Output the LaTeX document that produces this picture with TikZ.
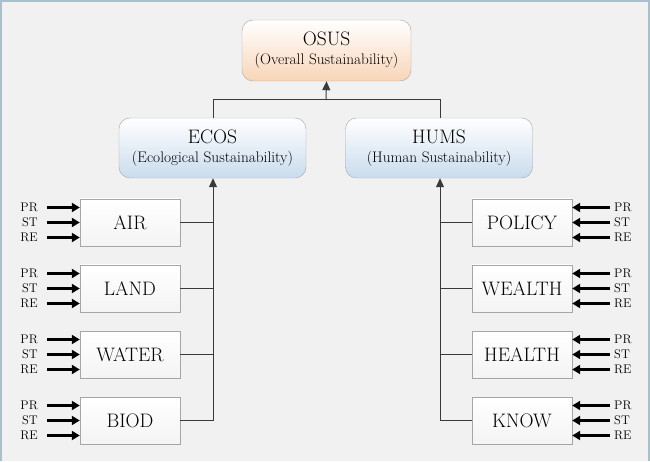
\documentclass[tikz,border=0pt]{standalone}
\usetikzlibrary{arrows.meta}
\definecolor{bgc}{HTML}{F1F1F1}
\definecolor{framec}{HTML}{A9BFCC}
\definecolor{peach}{HTML}{F8D5B8}
\definecolor{lblue}{HTML}{C9DCEE}
\definecolor{boxline}{HTML}{A6A6A6}
\definecolor{linec}{HTML}{3A3A3A}
\begin{document}
\begin{tikzpicture}[x=1pt,y=-1pt,
  topbox/.style={draw=boxline,rounded corners=11pt,minimum width=169pt,minimum height=61pt,align=center,font=\fontsize{19.5}{22}\selectfont,top color=white,bottom color=peach,inner sep=0pt},
  midbox/.style={draw=boxline,rounded corners=11pt,minimum width=187pt,minimum height=60pt,align=center,font=\fontsize{19.5}{22}\selectfont,top color=white,bottom color=lblue,inner sep=0pt},
  leaf/.style={draw=boxline,minimum width=100pt,minimum height=47pt,font=\fontsize{19.5}{22}\selectfont,top color=white,bottom color=bgc!80!white,inner sep=0pt},
  lab/.style={font=\fontsize{12.5}{13}\selectfont,inner sep=0pt},
  sub/.style={},
  conn/.style={draw=linec,line width=1pt},
  inarr/.style={line width=2.2pt,-{Triangle[length=8pt,width=9pt]}},
  uparr/.style={conn,-{Triangle[length=9pt,width=8pt]}}]
\fill[bgc] (0,0) rectangle (650,461);
\draw[framec,line width=1.5pt] (1,461) -- (1,1) -- (649,1) -- (649,461);
\useasboundingbox (0,0) rectangle (650,461);

\node[topbox] (osus) at (326.5,50.5) {OSUS\\[-3pt]{\fontsize{15.3}{17}\selectfont(Overall Sustainability)}};
\node[midbox] (ecos) at (212.5,148) {ECOS\\[-3pt]{\fontsize{15.3}{17}\selectfont(Ecological Sustainability)}};
\node[midbox] (hums) at (439,148) {HUMS\\[-3pt]{\fontsize{15.3}{17}\selectfont(Human Sustainability)}};

\coordinate (jl) at (213,100);
\coordinate (jr) at (440,100);
\coordinate (jm) at (326,100);
\draw[conn] (ecos.north -| jl) -- (jl) -- (jr) -- (hums.north -| jr);
\draw[uparr] (jm) -- (osus.south);

% left leaves
\foreach \n/\t/\y in {air/AIR/222.5,land/LAND/288.5,water/WATER/354.5,biod/BIOD/420.5}{
  \node[leaf] (\n) at (130,\y) {\t};
  \coordinate (\n c) at (213,\y);
  \draw[conn] (\n.east) -- (\n c);
  \coordinate (\n a1) at (47,\y-15);
  \coordinate (\n a2) at (47,\y);
  \coordinate (\n a3) at (47,\y+15);
  \node[lab,anchor=east] (\n l1) at (38,\y-15) {PR};
  \node[lab,anchor=east] (\n l2) at (38,\y) {ST};
  \node[lab,anchor=east] (\n l3) at (38,\y+15) {RE};
  \draw[inarr] (\n a1) -- (\n a1 -| \n.west);
  \draw[inarr] (\n a2) -- (\n a2 -| \n.west);
  \draw[inarr] (\n a3) -- (\n a3 -| \n.west);
}
\draw[uparr] (biodc) -- (ecos.south -| biodc);

% right leaves
\foreach \n/\t/\y in {policy/POLICY/222.5,wealth/WEALTH/288.5,health/HEALTH/354.5,know/KNOW/420.5}{
  \node[leaf] (\n) at (522,\y) {\t};
  \coordinate (\n c) at (440,\y);
  \draw[conn] (\n.west) -- (\n c);
  \coordinate (\n a1) at (610,\y-15);
  \coordinate (\n a2) at (610,\y);
  \coordinate (\n a3) at (610,\y+15);
  \node[lab,anchor=west] (\n l1) at (614,\y-15) {PR};
  \node[lab,anchor=west] (\n l2) at (614,\y) {ST};
  \node[lab,anchor=west] (\n l3) at (614,\y+15) {RE};
  \draw[inarr] (\n a1) -- (\n a1 -| \n.east);
  \draw[inarr] (\n a2) -- (\n a2 -| \n.east);
  \draw[inarr] (\n a3) -- (\n a3 -| \n.east);
}
\draw[uparr] (knowc) -- (hums.south -| knowc);
\end{tikzpicture}
\end{document}
